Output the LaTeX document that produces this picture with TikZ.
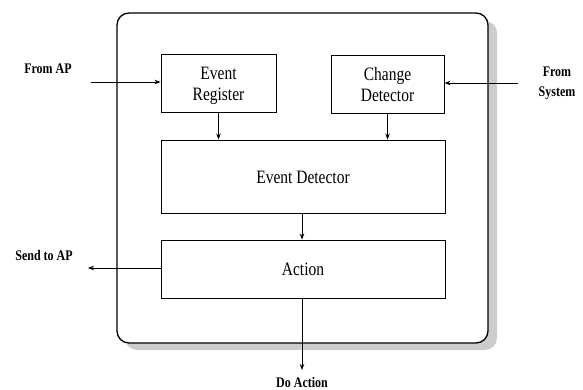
\documentclass[tikz,border=0pt]{standalone}
\usepackage{fontspec}
\setmainfont{Liberation Serif}
\usetikzlibrary{arrows.meta}
\newcommand\vstretchtext[1]{\scalebox{1}[1.22]{\begin{tabular}{@{}c@{}}#1\end{tabular}}}
\newcommand\blocktext[1]{\raisebox{-2.5pt}[\height][\depth]{\vstretchtext{#1}}}
\begin{document}
\begin{tikzpicture}[x=1pt,y=-1pt]
\useasboundingbox (0,0) rectangle (583,390);
\tikzset{
 blk/.style={draw, line width=0.9pt, inner sep=0pt, align=center, font=\fontsize{15.5}{17.5}\selectfont},
 lbl/.style={font=\bfseries\fontsize{12}{16.5}\selectfont, align=center, inner sep=0pt},
 arr/.style={draw, line width=0.9pt, -{Stealth[length=6pt,width=4.5pt]}},
 outerbox/.style={draw, line width=1.3pt, rounded corners=12pt, fill=white},
 shadowbox/.style={fill=gray!40, rounded corners=12pt},
}
\fill[shadowbox] (125,21) rectangle (497,350);
\node[outerbox, minimum width=371pt, minimum height=330pt, inner sep=0pt] (outer) at (302.5,178) {};
\node[blk, minimum width=115pt, minimum height=58pt] (er) at (218.5,83) {\blocktext{Event\\Register}};
\node[blk, minimum width=113pt, minimum height=58pt] (cd) at (387.5,84) {\blocktext{Change\\Detector}};
\node[blk, minimum width=284pt, minimum height=73pt] (ed) at (303,176.5) {\blocktext{Event Detector}};
\node[blk, minimum width=284pt, minimum height=58pt] (ac) at (303,269) {\blocktext{Action}};
\node[lbl] (l1) at (48,69) {\vstretchtext{From AP}};
\node[lbl] (l2) at (557,82.5) {\vstretchtext{From\\System}};
\node[lbl] (l3) at (44,256) {\vstretchtext{Send to AP}};
\node[lbl] (l4) at (302,383) {\vstretchtext{Do Action}};
\coordinate (fromap) at (91,82);
\coordinate (fromsys) at (518,83);
\coordinate (send) at (88,268);
\coordinate (doact) at (302,370);
\draw[arr] (fromap) -- (fromap -| er.west);
\draw[arr] (fromsys) -- (fromsys -| cd.east);
\draw[arr] (er.south) -- (er.south |- ed.north);
\draw[arr] (cd.south) -- (cd.south |- ed.north);
\draw[arr] (ed.south -| doact) -- (ac.north -| doact);
\draw[arr] (send -| ac.west) -- (send);
\draw[arr] (ac.south -| doact) -- (doact);
\end{tikzpicture}
\end{document}
